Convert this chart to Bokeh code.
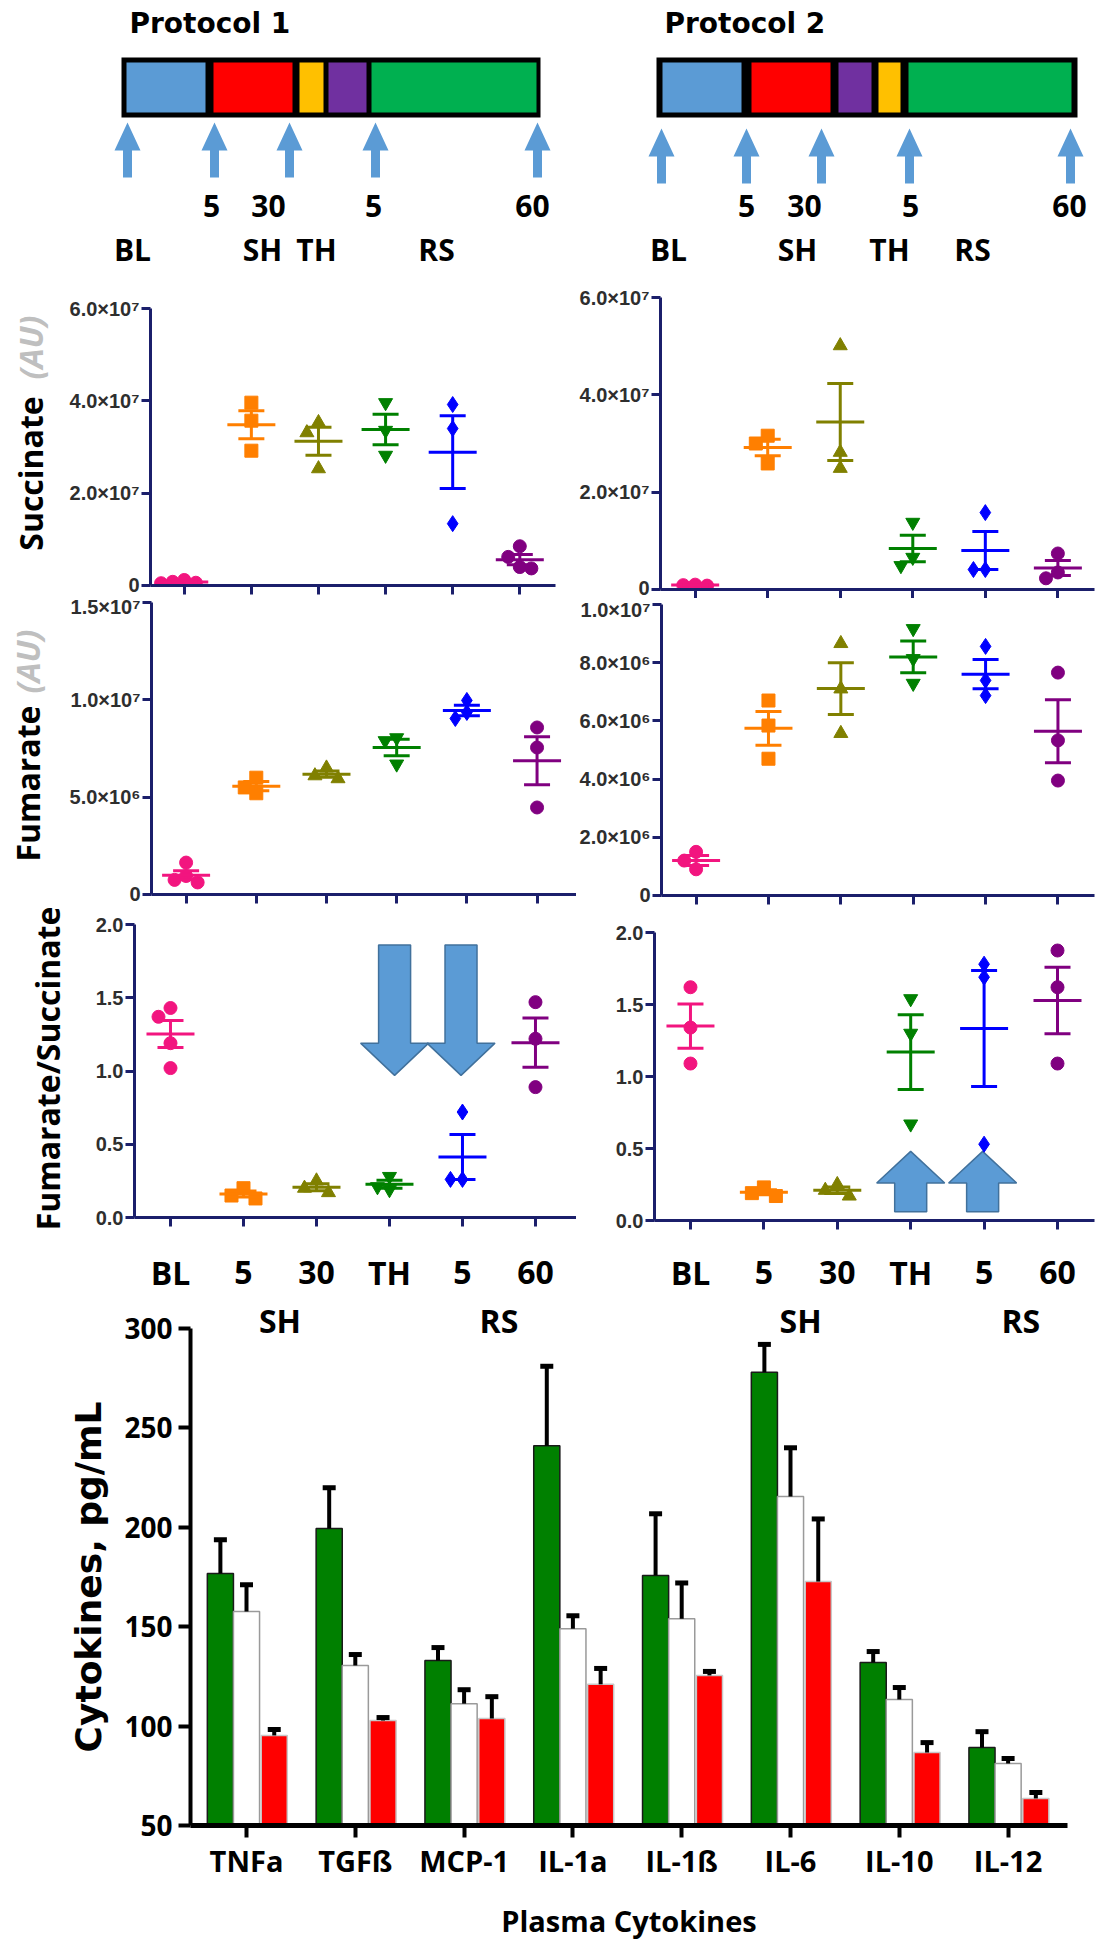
import numpy as np
from bokeh.plotting import figure
from bokeh.models import Range1d, FixedTicker
from bokeh.layouts import column, row
from bokeh.core.properties import value
from bokeh.embed import file_html
from bokeh.resources import INLINE

# ---------------------------------------------------------------- data
time_points = ["BL", "5", "30", "TH", "5", "60"]
phase_names = ["SH", "RS"]
phase_midpoints = [1.5, 4.5]
point_colors = ["#F2157F", "#FF7F00", "#808000", "#008000", "#0000FF", "#800080"]
point_markers = ["circle", "square", "triangle", "inverted_triangle", "diamond", "circle"]
point_sizes = [13, 13, 14, 14, 16, 13]

succinate_p1 = [[1.2e6, 0.8e6, 0.6e6, 0.5e6],
                [3.96e7, 3.57e7, 2.92e7],
                [3.53e7, 3.31e7, 2.53e7],
                [3.96e7, 3.36e7, 2.82e7],
                [3.92e7, 3.40e7, 1.34e7],
                [0.85e7, 0.62e7, 0.40e7, 0.37e7]]
fumarate_p1 = [[1.64e6, 0.95e6, 0.75e6, 0.62e6],
               [6.0e6, 5.5e6, 5.2e6],
               [6.5e6, 6.1e6, 5.95e6],
               [8.05e6, 7.9e6, 6.7e6],
               [9.97e6, 9.35e6, 9.04e6],
               [8.58e6, 7.55e6, 4.47e6]]
ratio_p1 = [[1.43, 1.37, 1.19, 1.02],
            [0.20, 0.15, 0.13],
            [0.25, 0.20, 0.17],
            [0.28, 0.21, 0.19],
            [0.72, 0.26, 0.26],
            [1.47, 1.22, 0.89]]

succinate_p2 = [[0.8e6, 0.9e6, 1.0e6],
                [3.16e7, 3.0e7, 2.59e7],
                [5.01e7, 2.82e7, 2.49e7],
                [1.38e7, 0.66e7, 0.49e7],
                [1.58e7, 0.41e7, 0.41e7],
                [0.74e7, 0.35e7, 0.23e7]]
fumarate_p2 = [[1.5e6, 1.2e6, 0.9e6],
               [6.7e6, 5.84e6, 4.7e6],
               [8.66e6, 7.1e6, 5.57e6],
               [9.17e6, 8.14e6, 7.29e6],
               [8.56e6, 7.39e6, 6.87e6],
               [7.66e6, 5.33e6, 3.95e6]]
ratio_p2 = [[1.62, 1.34, 1.09],
            [0.23, 0.19, 0.17],
            [0.25, 0.21, 0.17],
            [1.54, 1.30, 0.67],
            [1.78, 1.69, 0.53],
            [1.875, 1.62, 1.09]]

# highlighted time points in the ratio panels (category, tail, head base, tip)
ratio_arrows_p1 = [(3.07, 1.86, 1.19, 0.97), (3.98, 1.86, 1.19, 0.97)]
ratio_arrows_p2 = [(3.0, 0.06, 0.26, 0.48), (3.98, 0.06, 0.26, 0.48)]

cytokines = ["TNFa", "TGFß", "MCP-1", "IL-1a", "IL-1ß", "IL-6", "IL-10", "IL-12"]
cyto_green = [176.8, 199.4, 133.0, 241.0, 175.8, 278.0, 132.0, 89.2]
cyto_green_sem = [17.0, 20.5, 6.5, 40.0, 31.0, 14.0, 5.5, 8.0]
cyto_white = [157.6, 130.5, 111.3, 149.0, 154.0, 215.5, 113.4, 81.2]
cyto_white_sem = [13.5, 5.5, 7.0, 6.5, 18.0, 24.5, 6.0, 2.5]
cyto_red = [95.3, 102.8, 103.8, 121.0, 125.5, 172.7, 86.7, 63.6]
cyto_red_sem = [3.0, 1.5, 11.0, 8.0, 2.0, 31.5, 5.0, 3.0]

# protocol schematics (schematic units)
protocols = ["Protocol 1", "Protocol 2"]
proto_origin = [121, 656]
proto_len = [419, 421]
proto_phases = [[(5, 84, "#5B9BD5"), (92, 171, "#FF0000"), (178, 202, "#FFC000"),
                 (207, 245, "#7030A0"), (250, 415, "#00B050")],
                [(6, 85, "#5B9BD5"), (95, 174, "#FF0000"), (182, 215, "#7030A0"),
                 (222, 244, "#FFC000"), (252, 415, "#00B050")]]
proto_arrows = [[6, 93, 168, 254, 416], [5, 90, 165, 253, 414]]
proto_arrow_top = [122, 128]
proto_numbers = [["5", "30", "5", "60"], ["5", "30", "5", "60"]]
proto_number_pos = [[90, 147, 252, 411], [90, 148, 254, 413]]
proto_phase_names = [["BL", "SH", "TH", "RS"], ["BL", "SH", "TH", "RS"]]
proto_phase_pos = [[11, 141, 195, 315], [12, 141, 233, 316]]

NAVY = "#1B1F6B"
SANS = "Open Sans"

# bar-chart geometry on the page
BAR_CAT0 = 246.0       # page x of the first cytokine
BAR_PX_CAT = 108.8     # page px per cytokine
BAR_Y50 = 1825.0       # page y of the value 50
BAR_PX_UNIT = 1.988    # page px per pg/mL
BAR_LEFT, BAR_RIGHT = 190.0, 1067.0
PAGE_W, PAGE_H = 1104, 1948


def sup(n):
    return str(n).translate(str.maketrans("0123456789", "⁰¹²³⁴⁵⁶⁷⁸⁹"))


def sci(v):
    if v == 0:
        return "0"
    e = int(np.floor(np.log10(v)))
    return f"{v / 10**e:.1f}×10{sup(e)}"


SPECS = {
    "TOP": dict(box=(0, 0, PAGE_W, 280), frame=(0, 0, PAGE_W, 280), xr=(0, PAGE_W), yr=(280, 0)),
    "STRIP_S": dict(box=(0, 280, 66, 315), frame=(0, 280, 66, 315), xr=(0, 66), yr=(595, 280)),
    "STRIP_F": dict(box=(0, 595, 66, 309), frame=(0, 595, 66, 309), xr=(0, 66), yr=(904, 595)),
    "STRIP_R": dict(box=(0, 904, 90, 328), frame=(0, 904, 90, 328), xr=(0, 90), yr=(1232, 904)),
    "SL": dict(box=(66, 280, 510, 315), frame=(135, 308, 420, 277), xr=(-0.503, 5.532), yr=(0, 6e7)),
    "FL": dict(box=(66, 595, 510, 309), frame=(134, 602, 442, 292), xr=(-0.493, 5.562), yr=(0, 1.5e7)),
    "RL": dict(box=(90, 904, 486, 328), frame=(134, 924, 442, 293), xr=(-0.493, 5.562), yr=(0, 2.0)),
    "SR": dict(box=(576, 280, 528, 318), frame=(656, 297, 438, 292), xr=(-0.478, 5.505), yr=(0, 6e7)),
    "FR": dict(box=(576, 598, 528, 307), frame=(656, 604, 438, 291), xr=(-0.478, 5.505), yr=(0, 1e7)),
    "RR": dict(box=(576, 905, 528, 327), frame=(654, 932, 440, 288), xr=(-0.490, 5.504), yr=(0, 2.0)),
    "BAR": dict(box=(0, 1232, PAGE_W, PAGE_H - 1232), frame=(0, 1232, PAGE_W, PAGE_H - 1232),
                xr=((0 - BAR_CAT0) / BAR_PX_CAT, (PAGE_W - BAR_CAT0) / BAR_PX_CAT),
                yr=(50 - (PAGE_H - BAR_Y50) / BAR_PX_UNIT, 50 + (BAR_Y50 - 1232) / BAR_PX_UNIT)),
}


def make_fig(spec, bare=False):
    bx, by, bw, bh = spec["box"]
    fl, ft, fw, fh = spec["frame"]
    kw = {}
    if bare:
        kw = dict(x_axis_location=None, y_axis_location=None)
    p = figure(width=bw, height=bh, x_range=Range1d(*spec["xr"]), y_range=Range1d(*spec["yr"]),
               output_backend="svg", toolbar_location=None, frame_align=False,
               min_border_left=fl - bx, min_border_right=bw - (fl - bx) - fw,
               min_border_top=ft - by, min_border_bottom=bh - (ft - by) - fh, **kw)
    p.grid.visible = False
    p.outline_line_color = None
    p.background_fill_color = "white"
    p.border_fill_color = "white"
    return p


def page_to_data(spec, px, py):
    fl, ft, fw, fh = spec["frame"]
    x0, x1 = spec["xr"]
    y0, y1 = spec["yr"]
    return x0 + (px - fl) / fw * (x1 - x0), y0 + (ft + fh - py) / fh * (y1 - y0)


def data_to_page_x(spec, x):
    fl, ft, fw, fh = spec["frame"]
    x0, x1 = spec["xr"]
    return fl + (x - x0) / (x1 - x0) * fw


def swarm(ypx, d):
    offs = np.zeros(len(ypx))
    placed = []
    for i in np.argsort(-ypx):
        x = 0.0
        for k in [0, -1, 1, -2, 2, -3, 3]:
            x = k * d
            if all((x - qx) ** 2 + (ypx[i] - qy) ** 2 >= d * d for qx, qy in placed):
                break
        offs[i] = x
        placed.append((x, ypx[i]))
    return offs


def scatter_panel(key, data, yticks, ratio=False, arrows=None):
    spec = SPECS[key]
    p = make_fig(spec)
    fl, ft, fw, fh = spec["frame"]
    ppx = fw / (spec["xr"][1] - spec["xr"][0])
    ppy = fh / (spec["yr"][1] - spec["yr"][0])
    if arrows:
        xs, ys = [], []
        sw, hw = 16 / ppx, 34 / ppx
        for c, tail, base, tip in arrows:
            xs.append([c - sw, c + sw, c + sw, c + hw, c, c - hw, c - sw])
            ys.append([tail, tail, base, base, tip, base, base])
        p.patches(xs, ys, fill_color="#5B9BD5", line_color="#41719C", line_width=1.5)
    for i, vals in enumerate(data):
        v = np.array(vals, dtype=float)
        offs = swarm(v * ppy, 12.0) / ppx
        p.scatter(i + offs, v, marker=point_markers[i], size=point_sizes[i],
                  fill_color=point_colors[i], line_color=point_colors[i])
        m = v.mean()
        s = v.std(ddof=1) / np.sqrt(len(v))
        c = point_colors[i]
        p.segment([i], [m - s], [i], [m + s], line_color=c, line_width=3)
        p.rect([i], [m], width=48, height=3, width_units="screen", height_units="screen",
               fill_color=c, line_color=None)
        p.rect([i, i], [m - s, m + s], width=26, height=3, width_units="screen",
               height_units="screen", fill_color=c, line_color=None)
    for ax in p.xaxis + p.yaxis:
        ax.axis_line_color = NAVY
        ax.axis_line_width = 3
        ax.major_tick_line_color = NAVY
        ax.major_tick_line_width = 3
        ax.major_tick_in = 0
        ax.major_tick_out = 9
        ax.minor_tick_line_color = None
    p.yaxis.ticker = FixedTicker(ticks=yticks)
    if ratio:
        p.yaxis.major_label_overrides = {t: f"{t:.1f}" for t in yticks}
    else:
        p.yaxis.major_label_overrides = {t: sci(t) for t in yticks}
    p.yaxis.major_label_text_font = "Liberation Sans"
    p.yaxis.major_label_text_font_style = "bold"
    p.yaxis.major_label_text_font_size = "20px"
    p.yaxis.major_label_text_color = "#2E2E2E"
    p.yaxis.major_label_standoff = 2
    p.xaxis.ticker = FixedTicker(ticks=list(range(len(time_points))))
    # time point names are written under the ratio panels (see below)
    p.xaxis.major_label_text_color = None
    p.xaxis.major_label_text_font_size = "1px"
    p.xaxis.major_label_standoff = 0
    return p


def vtitle(key, parts):
    p = make_fig(SPECS[key], bare=True)
    for px, py, txt, col, style in parts:
        p.text(x=[px], y=[py], text=[txt], angle=np.pi / 2, text_font=value(SANS),
               text_font_style=style, text_font_size="32px", text_color=col,
               text_align="center", text_baseline="middle")
    return p


# ---------------------------------------------------------------- scatter panels
sl = scatter_panel("SL", succinate_p1, [0, 20000000, 40000000, 60000000])
fl_ = scatter_panel("FL", fumarate_p1, [0, 5000000, 10000000, 15000000])
rl = scatter_panel("RL", ratio_p1, [0, 0.5, 1, 1.5, 2], ratio=True, arrows=ratio_arrows_p1)
sr = scatter_panel("SR", succinate_p2, [0, 20000000, 40000000, 60000000])
fr = scatter_panel("FR", fumarate_p2, [0, 2000000, 4000000, 6000000, 8000000, 10000000])
rr = scatter_panel("RR", ratio_p2, [0, 0.5, 1, 1.5, 2], ratio=True, arrows=ratio_arrows_p2)

ts = vtitle("STRIP_S", [(30, 473, "Succinate", "black", "bold"),
                        (30, 347, "(AU)", "#BFBFBF", "bold italic")])
tf = vtitle("STRIP_F", [(27, 783, "Fumarate", "black", "bold"),
                        (27, 661, "(AU)", "#BFBFBF", "bold italic")])
tr = vtitle("STRIP_R", [(47, 1068, "Fumarate/Succinate", "black", "bold")])

# ---------------------------------------------------------------- bar chart
bspec = SPECS["BAR"]
pb = make_fig(bspec)
xs = np.arange(len(cytokines))
bw = 0.24
for off, vals, sems, fill, line in [(-0.24, cyto_green, cyto_green_sem, "#008000", "#1a1a1a"),
                                    (0.0, cyto_white, cyto_white_sem, "white", "#9a9a9a"),
                                    (0.255, cyto_red, cyto_red_sem, "#FF0000", "#c8c8c8")]:
    v = np.array(vals)
    e = np.array(sems)
    pb.vbar(x=xs + off, bottom=50, top=v, width=bw, fill_color=fill, line_color=line, line_width=1.5)
    pb.segment(xs + off, v, xs + off, v + e, line_color="black", line_width=4)
    pb.rect(xs + off, v + e, width=13, height=5, width_units="screen", height_units="screen",
            fill_color="black", line_color=None)

x_lo = (BAR_LEFT - BAR_CAT0) / BAR_PX_CAT
x_hi = (BAR_RIGHT - BAR_CAT0) / BAR_PX_CAT
for ax in pb.xaxis + pb.yaxis:
    ax.axis_line_color = "black"
    ax.major_tick_line_color = "black"
    ax.major_tick_line_width = 4
    ax.major_tick_in = 0
    ax.major_tick_out = 12
    ax.minor_tick_line_color = None
    ax.major_label_text_font = SANS
    ax.major_label_text_font_style = "bold"
    ax.major_label_text_color = "black"
pb.xaxis.fixed_location = 50
pb.xaxis.bounds = (x_lo, x_hi)
pb.yaxis.fixed_location = x_lo
pb.yaxis.bounds = (50, 300)
pb.xaxis.axis_line_width = 5
pb.yaxis.axis_line_width = 4
pb.yaxis.ticker = FixedTicker(ticks=[50, 100, 150, 200, 250, 300])
pb.yaxis.major_label_text_font_size = "28px"
pb.yaxis.major_label_standoff = 6
pb.yaxis.axis_label = "Cytokines, pg/mL"
pb.yaxis.axis_label_text_font = "DejaVu Sans"
pb.yaxis.axis_label_text_font_style = "bold"
pb.yaxis.axis_label_text_font_size = "36px"
pb.yaxis.axis_label_text_color = "black"
pb.yaxis.axis_label_standoff = 12
pb.xaxis.ticker = FixedTicker(ticks=list(range(len(cytokines))))
pb.xaxis.major_label_overrides = {i: c for i, c in enumerate(cytokines)}
pb.xaxis.major_label_text_font_size = "29px"
pb.xaxis.major_label_standoff = 3
pb.xaxis.axis_label = "Plasma Cytokines"
pb.xaxis.axis_label_text_font = SANS
pb.xaxis.axis_label_text_font_style = "bold"
pb.xaxis.axis_label_text_font_size = "29px"
pb.xaxis.axis_label_text_color = "black"
pb.xaxis.axis_label_standoff = 18

# time point names and phase names under the ratio panels (drawn in the space above the bars)
for key in ["RL", "RR"]:
    tx, ty, tt = [], [], []
    for i, name in enumerate(time_points):
        x, y = page_to_data(bspec, data_to_page_x(SPECS[key], i), 1272)
        tx.append(x); ty.append(y); tt.append(name)
    for cat, name in zip(phase_midpoints, phase_names):
        x, y = page_to_data(bspec, data_to_page_x(SPECS[key], cat), 1320)
        tx.append(x); ty.append(y); tt.append(name)
    pb.text(x=tx, y=ty, text=tt, text_font=value(SANS), text_font_style="bold",
            text_font_size="32px", text_color="black", text_align="center", text_baseline="middle")

# ---------------------------------------------------------------- protocol schematics
pt = make_fig(SPECS["TOP"], bare=True)
for k in range(2):
    o = proto_origin[k]
    pt.quad(left=[o], right=[o + proto_len[k]], bottom=[117], top=[57], fill_color="black", line_color=None)
    pt.quad(left=[o + a for a, b, c in proto_phases[k]], right=[o + b for a, b, c in proto_phases[k]],
            bottom=[112] * 5, top=[62] * 5, fill_color=[c for a, b, c in proto_phases[k]], line_color=None)
    axs, ays = [], []
    t = proto_arrow_top[k]
    for a in proto_arrows[k]:
        cx = o + a
        axs.append([cx, cx + 13, cx + 4.5, cx + 4.5, cx - 4.5, cx - 4.5, cx - 13])
        ays.append([t, t + 28, t + 28, t + 55, t + 55, t + 28, t + 28])
    pt.patches(axs, ays, fill_color="#5B9BD5", line_color=None)
    pt.text(x=[o + v for v in proto_number_pos[k]], y=[205] * 4, text=proto_numbers[k],
            text_font=value(SANS), text_font_style="bold", text_font_size="30px",
            text_align="center", text_baseline="middle", text_color="black")
    pt.text(x=[o + v for v in proto_phase_pos[k]], y=[249] * 4, text=proto_phase_names[k],
            text_font=value(SANS), text_font_style="bold", text_font_size="30px",
            text_align="center", text_baseline="middle", text_color="black")
    pt.text(x=[o + 8], y=[23], text=[protocols[k]], text_font=value("DejaVu Sans"),
            text_font_style="bold", text_font_size="28px", text_align="left",
            text_baseline="middle", text_color="black")

left_col = column(row(ts, sl, spacing=0), row(tf, fl_, spacing=0), row(tr, rl, spacing=0), spacing=0)
right_col = column(sr, fr, rr, spacing=0)
layout = column(pt, row(left_col, right_col, spacing=0), pb, spacing=0)

open("out.html", "w").write(file_html(layout, INLINE))
